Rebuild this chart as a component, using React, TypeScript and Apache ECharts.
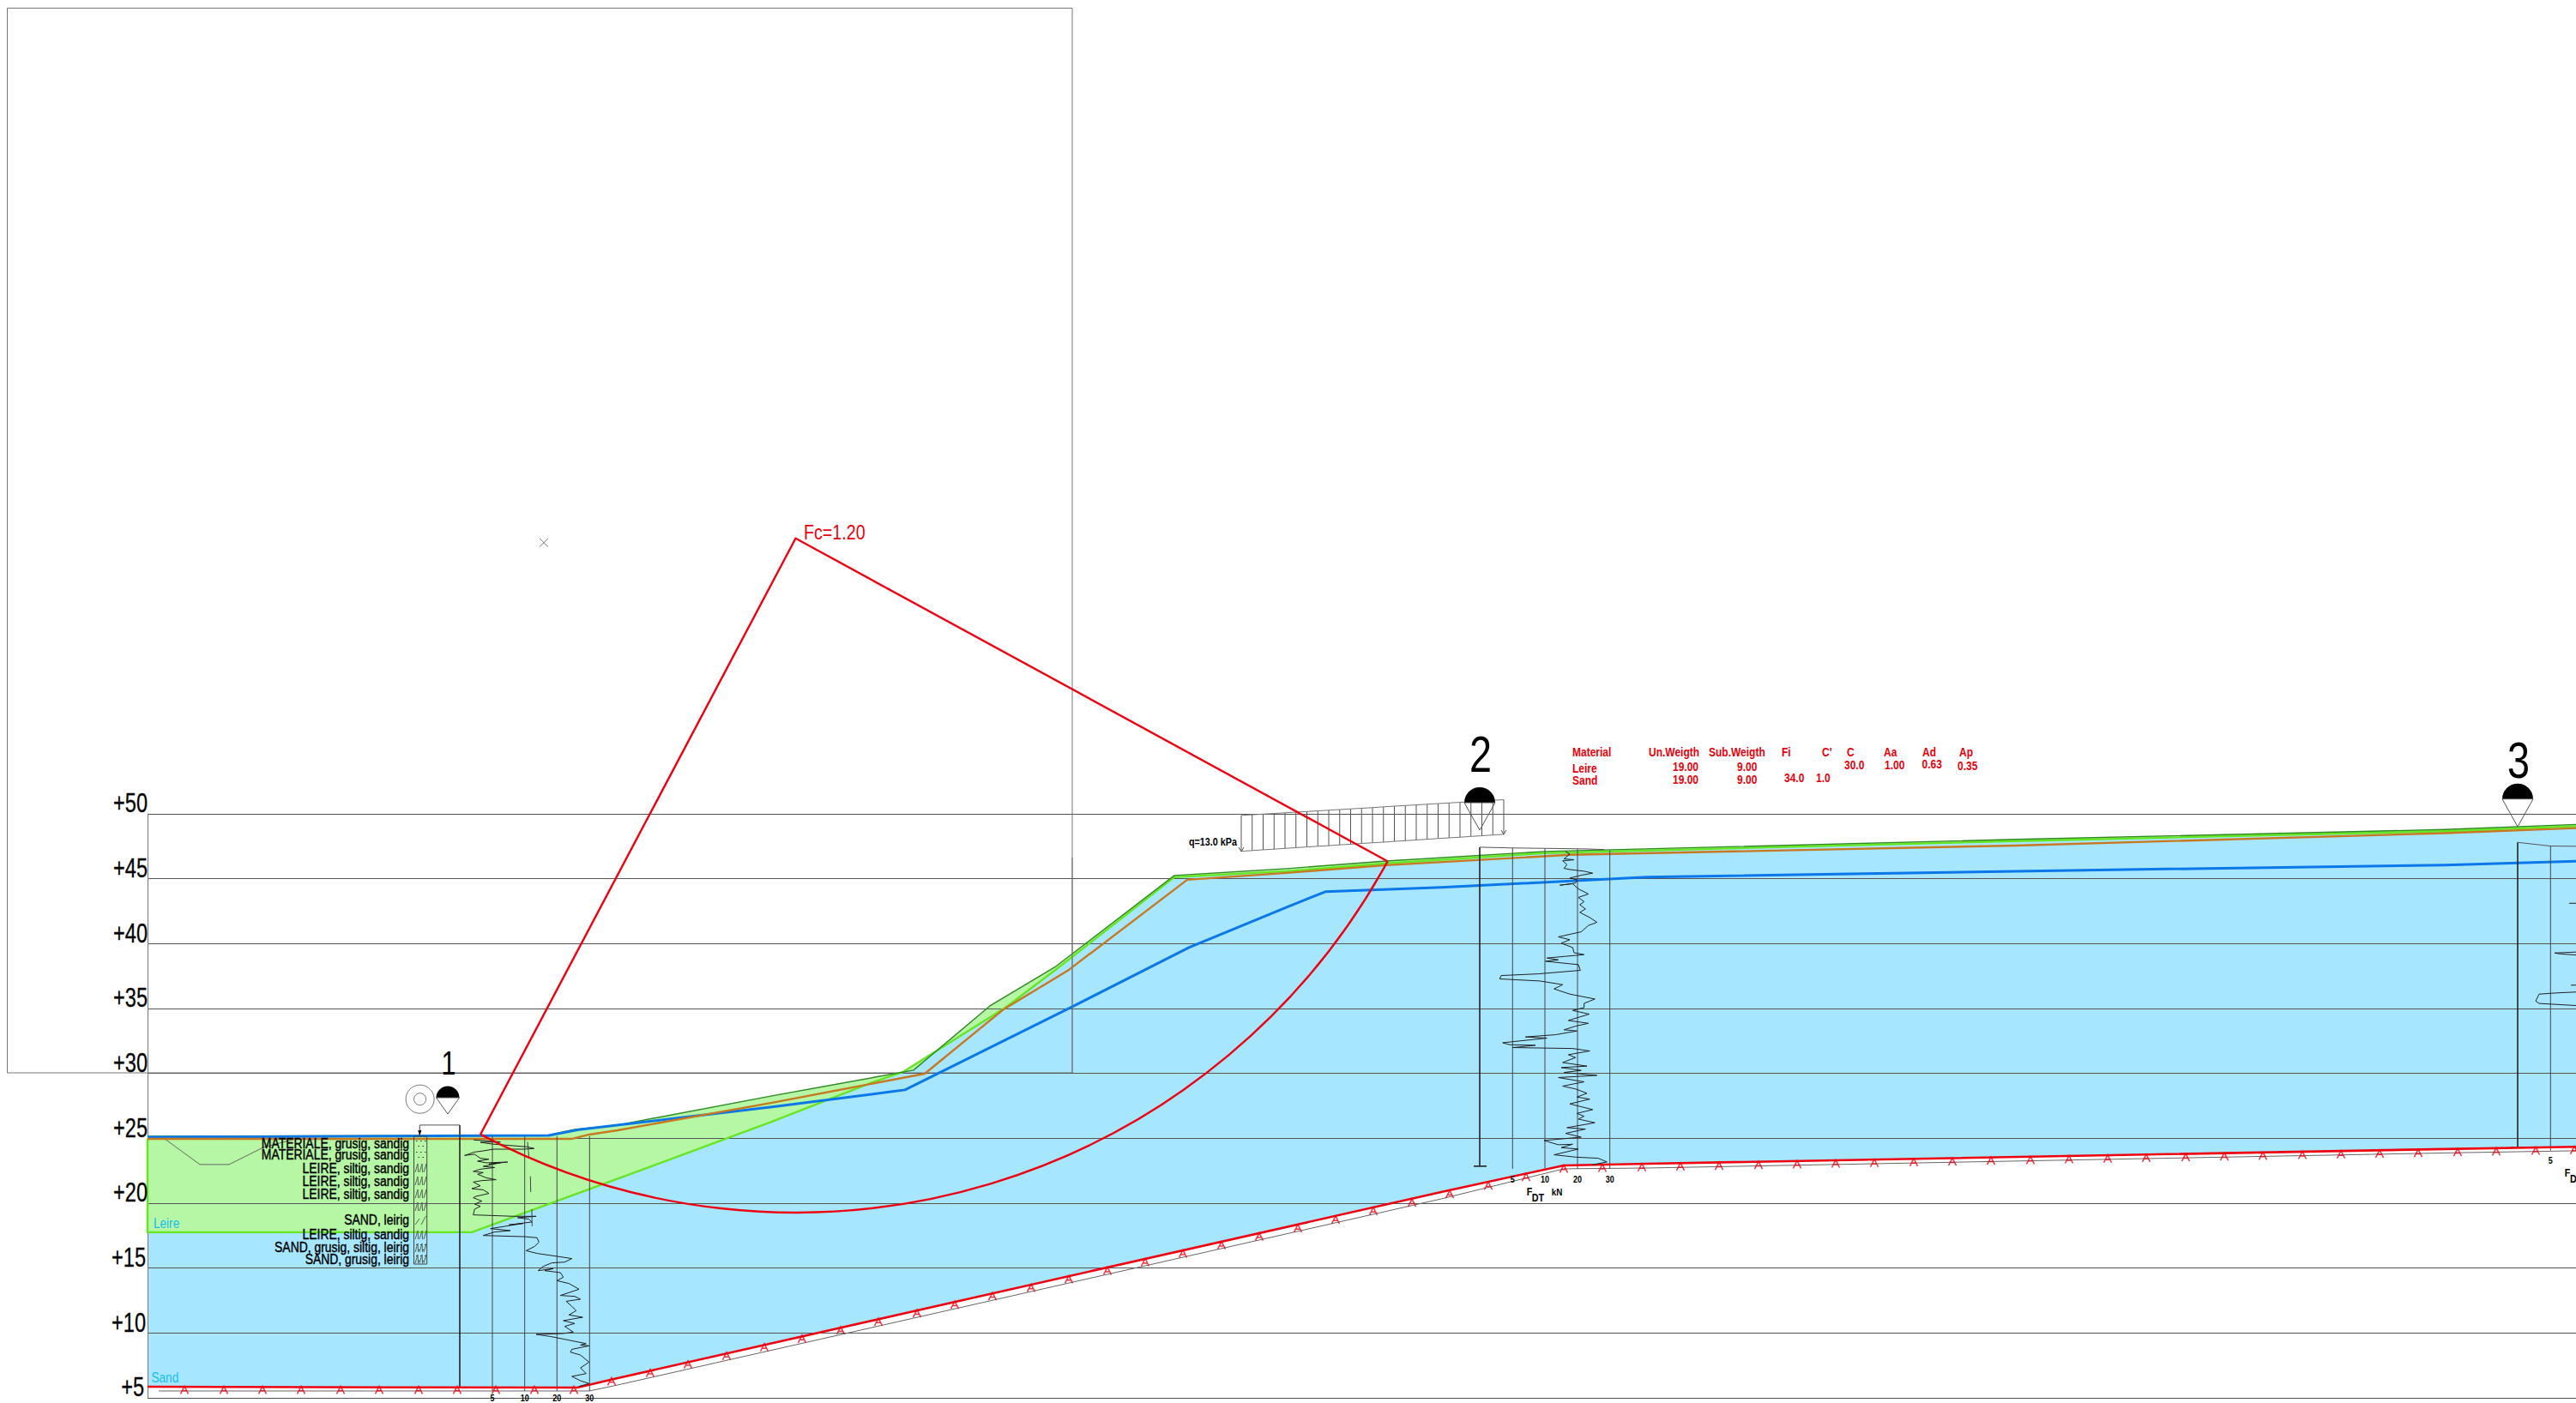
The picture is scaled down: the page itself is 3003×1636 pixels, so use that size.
import React, { useEffect, useRef } from "react";
import * as echarts from "echarts";

// drawing station (x) and elevation in metres (e) -------------------------
const elevationTicks = [5, 10, 15, 20, 25, 30, 35, 40, 45, 50];

const surface = [[172,25.16],[637,25.22],[670,25.69],[720,26.02],[900,28.27],[1065,30.25],[1154,35.2],[1231,38.25],[1369,45.25],[1500,45.78],[1616,46.37],[1800,47.1],[2350,48.03],[2850,48.79],[3003,49.18]];
const leireLower = [[172,17.76],[550,17.76],[700,21.39],[900,26.28],[1015,29.26],[1053,30.12],[1172,35.07],[1229,37.91],[1369,45.12],[1500,45.58],[1616,46.18],[1800,46.97],[2350,47.9],[2850,48.66],[3003,49.05]];
const orangeLine = [[172,24.96],[667,24.96],[687,25.29],[720,25.62],[900,27.74],[1078,29.98],[1170,34.94],[1246,37.98],[1384,44.92],[1500,45.45],[1616,46.04],[1830,46.84],[2350,47.56],[2850,48.51],[3003,48.9]];
const waterLine = [[172,25.09],[640,25.22],[677,25.69],[900,27.41],[1055,28.73],[1248,35.07],[1386,39.7],[1500,42.81],[1545,44],[1680,44.33],[1920,45.12],[2350,45.58],[2850,46.06],[3003,46.35]];
const redBase = [[172,5.86],[463,5.81],[673,5.79],[720,6.52],[1680,20.86],[1823,22.91],[1920,23.04],[2850,24.17],[3003,24.34]];
const thinBase = [[185,5.53],[687,5.53],[720,5.99],[1680,20.33],[1823,22.65],[1920,22.71],[2850,23.87],[3003,24.04]];
const trench = [[192,24.96],[233,22.98],[267,22.98],[307,24.3],[345,24.96]];

const anchorX = [215,261,306,351,397,442,488,533,578,623,669,713,758,802,847,891,935,980,1024,1069,1113,1157,1202,1246,1291,1335,1379,1424,1468,1513,1557,1601,1646,1690,1735,1779,1823,1868,1914,1959,2004,2050,2095,2140,2185,2231,2276,2321,2367,2412,2457,2502,2548,2593,2638,2684,2729,2774,2819,2865,2910,2956,3001];
const anchorE = [5.6,5.6,5.6,5.6,5.6,5.6,5.6,5.6,5.6,5.6,5.6,6.26,6.91,7.57,8.22,8.88,9.54,10.19,10.85,11.5,12.16,12.82,13.47,14.13,14.78,15.44,16.1,16.75,17.41,18.06,18.72,19.38,20.03,20.69,21.34,22.0,22.65,22.71,22.76,22.82,22.87,22.93,22.98,23.04,23.09,23.15,23.2,23.26,23.31,23.37,23.42,23.48,23.53,23.59,23.64,23.7,23.75,23.81,23.86,23.92,23.97,24.03,24.09];

// circular slip surface
const slipCentre = [927.5, 71.23];
const slipRadiusM = 51.95;
const slipArcDeg = [28.6, 117.8];
const slipLegs = [[560,25.29],[927.5,71.23],[1617,46.37]];
const crossMark = [[629,71.23,639,70.57],[629,70.57,639,71.23]];

// penetration soundings
const cpt1 = [[552.3,24.87],[583.3,24.72],[560,24.69],[573.3,24.56],[615,24.34],[622.7,24.21],[610,24.16],[575,24.16],[563.3,24.03],[553.3,23.94],[541.7,23.68],[553.3,23.77],[560,23.46],[570,23.39],[556.7,23.24],[566.7,23.11],[591.7,23.17],[570,23.02],[583.3,23.11],[563.3,22.84],[576.7,22.75],[560,22.62],[551.7,22.45],[563.3,22.36],[556.7,22.23],[566.7,21.96],[578.3,21.81],[561.7,21.74],[551.7,21.63],[560,21.34],[550,21.12],[563.3,21.03],[570,20.75],[555,20.53],[551.7,20.42],[561.7,20.16],[553.3,19.93],[560,19.76],[553.3,19.54],[551.7,19.1],[573.3,19.05],[598.3,18.99],[625,18.99],[603.3,18.88],[616.7,18.77],[620,18.55],[593.3,18.33],[610,18.44],[571.7,18.04],[595,17.89],[576.7,17.78],[563.3,17.51],[611.7,17.42],[626,17.34],[628.3,17],[623.3,16.67],[613.3,16.34],[626.7,16.12],[650,15.9],[666.7,15.73],[658.3,15.46],[643.3,15.4],[633.3,15.13],[627.3,14.8],[645,14.96],[635,14.8],[653.3,14.65],[656.7,14.3],[649.3,14.03],[663.3,13.81],[675,13.37],[653.3,12.89],[670,12.82],[676.7,12.6],[660,12.44],[666.7,12.05],[671.7,11.72],[663.3,11.39],[679.3,11.21],[656.7,10.95],[670,10.73],[658.3,10.51],[668.3,10.07],[656.7,9.96],[625,9.89],[641.7,9.73],[658.3,9.51],[683.3,9.18],[676.7,9.07],[686.7,9.01],[666.7,8.74],[665,8.52],[676.7,8.3],[686.7,7.75],[676.7,7.31],[683.3,6.87],[666.7,6.65],[676.7,6.32],[686.7,6.1],[675,5.88]];
const cpt2 = [[1825,47.1],[1830,46.9],[1823.3,46.53],[1835,46.46],[1821.7,46.38],[1826.7,46.09],[1823.3,45.8],[1830,45.71],[1846.7,45.58],[1856.7,45.43],[1843.3,45.27],[1830,45.05],[1838.3,44.92],[1836.7,44.66],[1818.3,44.5],[1833.3,44.61],[1840,44.22],[1851.7,43.82],[1840,43.56],[1846.7,43.23],[1841.7,43],[1848.3,42.67],[1841.7,42.41],[1853.3,42.01],[1861.7,41.64],[1851.7,41.4],[1843.3,40.91],[1816.7,40.52],[1830,40.3],[1820,40.03],[1833.3,39.7],[1835,39.3],[1846.7,39.15],[1803.3,38.89],[1816.7,38.75],[1801.7,38.64],[1840,38.38],[1842.3,37.94],[1793.3,37.67],[1750,37.54],[1748.3,37.28],[1795,37.12],[1821.7,36.84],[1811.7,36.51],[1830,36.11],[1859.3,35.73],[1846.7,35.4],[1846.7,35.07],[1833.3,34.85],[1852.7,34.57],[1828.3,34.08],[1851.7,33.86],[1836.7,33.64],[1823.3,33.36],[1838.3,33.27],[1813.3,32.98],[1778.3,32.81],[1803.3,32.72],[1751.7,32.36],[1760,32.21],[1790,32.17],[1763.3,31.99],[1833.3,31.92],[1853.3,31.73],[1828.3,31.44],[1836.7,31.22],[1821.7,30.84],[1850,30.56],[1820,30.45],[1843.3,30.23],[1823.3,30.07],[1861.7,29.85],[1816.7,29.68],[1846.7,29.35],[1821.7,29.02],[1836.7,28.8],[1850,28.47],[1838.3,28.18],[1853.3,28.02],[1830,27.65],[1856.7,27.21],[1838.3,26.92],[1846.7,26.7],[1840,26.48],[1859.3,26.2],[1826.7,25.82],[1848.3,25.71],[1825,25.38],[1843.3,25.09],[1800,24.83],[1816.7,24.5],[1833.3,24.54],[1820,24.28],[1840,24.17],[1811.7,23.73],[1836.7,23.55],[1863.3,23.46],[1873.3,23.18],[1856.7,22.96]];
const cpt3a = [[2995,43.11],[3003,43.11]];
const cpt3b = [[3003,39.35],[2978,39.28],[2983,39.22],[3003,39.12]];
const cpt3c = [[2997,36.8],[3003,36.8]];
const cpt3d = [[3003,36.27],[2980,36.2],[2960,36.11],[2956,35.58],[2960,35.39],[3003,35.23]];
const cptTop2 = [[1725,47.43],[1764,47.37],[1848,47.3],[1870,47.25]];
const cptTop3 = [[2935,47.8],[2973,47.52],[3003,47.5]];
const cptTop1 = [[489.3,26.02],[536,26.02],[536,25.16]];

// x1, e1, x2, e2
const cptAxesThin = [
  [574,25.16,574,5.53],[611.7,25.16,611.7,5.53],[649.3,25.16,649.3,5.53],[687.3,25.16,687.3,5.53],
  [1763.3,47.37,1763.3,22.65],[1801,47.34,1801,22.65],[1839,47.3,1839,22.65],[1876.7,47.2,1876.7,22.65],
  [2973.3,47.52,2973.3,24.06],
  [615,24.72,616.7,23.5],[618.3,22.07,618.7,20.86],[620,19.54,620.3,18.22],
];
const cptAxesThick = [
  [536,26.02,536,5.79],[525,5.79,544,5.79],
  [1725,47.43,1725,22.85],[1718,22.85,1733,22.85],
  [2935,47.8,2935,24.3],[2927,24.3,2943,24.3],
];

// load strip
const loadX = [1447,1459.75,1472.5,1485.25,1498,1510.75,1523.5,1536.25,1549,1561.75,1574.5,1587.25,1600,1612.75,1625.5,1638.25,1651,1663.75,1676.5,1689.25,1702,1714.75,1727.5,1740.25,1753];
const loadTopE = [49.88,49.93,49.98,50.03,50.08,50.13,50.18,50.23,50.28,50.33,50.38,50.43,50.48,50.54,50.59,50.64,50.69,50.74,50.79,50.84,50.89,50.94,50.99,51.04,51.09];
const loadBottomE = [47.12,47.17,47.23,47.28,47.34,47.39,47.45,47.5,47.55,47.61,47.66,47.72,47.77,47.82,47.88,47.93,47.99,48.04,48.1,48.15,48.2,48.26,48.31,48.37,48.42];

const logLabels = [
  { text: "MATERIALE, grusig, sandig", y: 1333.5 },
  { text: "MATERIALE, grusig, sandig", y: 1346.5 },
  { text: "LEIRE, siltig, sandig", y: 1362 },
  { text: "LEIRE, siltig, sandig", y: 1377 },
  { text: "LEIRE, siltig, sandig", y: 1392 },
  { text: "SAND, leirig", y: 1422 },
  { text: "LEIRE, siltig, sandig", y: 1439 },
  { text: "SAND, grusig, siltig, leirig", y: 1454.5 },
  { text: "SAND, grusig, leirig", y: 1468 },
];
const hatchRows = [
  { kind: "dots", y: 1334 }, { kind: "dots", y: 1347 },
  { kind: "clay", y: 1362 }, { kind: "clay", y: 1377 }, { kind: "clay", y: 1392 }, { kind: "clay", y: 1407 },
  { kind: "sand", y: 1423 }, { kind: "clay", y: 1440 },
  { kind: "mix", y: 1455 }, { kind: "mix", y: 1468 },
];
const tableHeader = [
  ["Material",1833],["Un.Weigth",1922],["Sub.Weigth",1992],["Fi",2077],["C'",2124],["C",2153],["Aa",2196],["Ad",2241],["Ap",2284],
];
const tableCells = [
  ["Leire",1833,895.7],["Sand",1833,910],
  ["19.00",1950,894],["9.00",2025,894],["19.00",1950,909],["9.00",2025,909],
  ["34.0",2080,907],["1.0",2117,907],
  ["30.0",2150,891.7],["1.00",2197,892],["0.63",2240.6,891],["0.35",2282,893],
];
const cptScale = [
  ["5",574,1630],["10",611.7,1630],["20",649.3,1630],["30",687.3,1630],
  ["5",1763.3,1375],["10",1801,1375],["20",1839,1375],["30",1876.7,1375],
  ["5",2973.3,1353],
];
const cones = [
  { label: "1", x: 522, top: 1266, base: 1280, hw: 13.5, tip: 1299, size: 39, ly: 1239 },
  { label: "2", x: 1725, top: 918, base: 936, hw: 18, tip: 968, size: 60, ly: 879 },
  { label: "3", x: 2935, top: 913, base: 931.7, hw: 18, tip: 964, size: 60, ly: 886 },
];

const FONT = "'Liberation Sans',sans-serif";
const GRID_TOP = 949;
const GRID_BOTTOM_Y = 1630;
const GRID_LEFT = 172;

const poly = (name: string, data: number[][], color: string, width: number, z: number) => ({
  type: "line", name, data, showSymbol: false, symbol: "none", clip: false, silent: true, z,
  lineStyle: { color, width, join: "round" }, emphasis: { disabled: true },
});

const fill = (name: string, pts: number[][], color: string, z: number) => ({
  type: "custom", name, clip: false, silent: true, z, data: pts, encode: { x: 0, y: 1 },
  renderItem: (p: any, api: any) => {
    if (p.dataIndex !== 0) return null;
    return { type: "polygon", shape: { points: pts.map((q) => api.coord(q)) }, style: { fill: color, stroke: "none" } };
  },
});

const segs = (name: string, data: number[][], color: string, width: number, z: number) => ({
  type: "custom", name, clip: false, silent: true, z, data, encode: { x: [0, 2], y: [1, 3] },
  renderItem: (_p: any, api: any) => {
    const a = api.coord([api.value(0), api.value(1)]);
    const b = api.coord([api.value(2), api.value(3)]);
    return { type: "line", shape: { x1: a[0], y1: a[1], x2: b[0], y2: b[1] }, style: { stroke: color, lineWidth: width, fill: "none" } };
  },
});

const txt = (text: string, x: number, y: number, size: number, sx = 1, color = "#000", align = "left", weight = "normal", heavy = 0) => ({
  type: "text", x, y, scaleX: sx, z: 20, silent: true,
  style: { text, fill: color, fontSize: size, fontFamily: FONT, fontWeight: weight, align, verticalAlign: "middle",
    ...(heavy ? { stroke: color, lineWidth: heavy } : {}) },
});

const ln = (x1: number, y1: number, x2: number, y2: number, color = "#555", w = 1) => ({
  type: "line", z: 15, silent: true, shape: { x1, y1, x2, y2 }, style: { stroke: color, lineWidth: w },
});

function buildGraphics(): any[] {
  const g: any[] = [];
  const RED = "#e8000c";
  // reference frame of the search grid
  g.push({ type: "rect", z: 1, silent: true, shape: { x: 8.5, y: 9.5, width: 1241.5, height: 1241.5 }, style: { fill: "none", stroke: "#777", lineWidth: 1 } });
  g.push(ln(1250, 1000, 1250, 1251, "#777"));

  g.push(txt("Fc=1.20", 937, 620.5, 24, 0.82, RED));
  g.push(txt("Leire", 179, 1426.5, 16, 0.85, "#16bdf0"));
  g.push(txt("Sand", 176.5, 1606.5, 16, 0.85, "#16bdf0"));
  g.push(txt("q=13.0 kPa", 1442, 981.5, 12, 0.9, "#000", "right", "bold"));
  logLabels.forEach((l) => g.push(txt(l.text, 477, l.y, 16, 0.87, "#000", "right", "normal", 0.4)));
  tableHeader.forEach(([t, x]) => g.push(txt(t as string, x as number, 877, 15, 0.8, RED, "left", "bold")));
  tableCells.forEach(([t, x, y]) => g.push(txt(t as string, x as number, y as number, 15, 0.8, RED, "left", "bold")));
  cptScale.forEach(([t, x, y]) => g.push(txt(t as string, x as number, y as number, 10, 0.9, "#000", "center", "bold")));
  g.push(txt("F", 1783, 1390, 12, 0.9, "#000", "center", "bold"));
  g.push(txt("DT", 1793, 1397, 12, 0.9, "#000", "center", "bold"));
  g.push(txt("kN", 1815, 1390, 11, 0.9, "#000", "center", "bold"));
  g.push(txt("F", 2993, 1368, 12, 0.9, "#000", "center", "bold"));
  g.push(txt("D", 3000, 1375, 12, 0.9, "#000", "center", "bold"));

  cones.forEach((c) => {
    g.push(txt(c.label, c.x + 1, c.ly, c.size, 0.78, "#000", "center"));
    g.push({ type: "sector", z: 16, silent: true, shape: { cx: c.x, cy: c.base, r0: 0, r: c.hw, startAngle: Math.PI, endAngle: 2 * Math.PI }, style: { fill: "#000" } });
    g.push({ type: "polygon", z: 16, silent: true, shape: { points: [[c.x - c.hw, c.base], [c.x + c.hw, c.base], [c.x, c.tip]] }, style: { fill: "none", stroke: "#555", lineWidth: 1 } });
  });
  g.push({ type: "circle", z: 16, silent: true, shape: { cx: 489.6, cy: 1281.7, r: 16.5 }, style: { fill: "none", stroke: "#777", lineWidth: 1 } });
  g.push({ type: "circle", z: 16, silent: true, shape: { cx: 489.6, cy: 1281.7, r: 7 }, style: { fill: "none", stroke: "#777", lineWidth: 1 } });
  g.push({ type: "polygon", z: 16, silent: true, shape: { points: [[487.3, 1318], [491.3, 1318], [489.3, 1325]] }, style: { fill: "#000" } });
  g.push(ln(489.3, 1312, 489.3, 1320, "#444"));

  // small load arrows
  g.push(ln(1447, 993, 1444, 988, "#555"), ln(1447, 993, 1450, 988, "#555"));
  g.push(ln(1753, 973, 1750, 968, "#555"), ln(1753, 973, 1756, 968, "#555"));

  // borehole log column
  g.push({ type: "rect", z: 15, silent: true, shape: { x: 482.5, y: 1325, width: 15.2, height: 149 }, style: { fill: "none", stroke: "#444", lineWidth: 1 } });
  hatchRows.forEach((r) => {
    const c = "#556655";
    if (r.kind === "dots" || r.kind === "mix") {
      [485, 490, 495].forEach((x) => g.push(ln(x, r.y - 3.5, x + 1.5, r.y - 3.5, "#333")));
      [487.5, 492.5].forEach((x) => g.push(ln(x, r.y + 2.5, x + 1.5, r.y + 2.5, "#333")));
    }
    if (r.kind === "clay" || r.kind === "mix") {
      [484, 489, 494].forEach((x) => {
        g.push(ln(x, r.y + 5, x + 3, r.y - 5, c));
        g.push(ln(x + 3, r.y - 5, x + 3.6, r.y + 5, c));
      });
    }
    if (r.kind === "sand") {
      g.push(ln(484, r.y + 5, 489, r.y - 2, c), ln(491, r.y + 5, 496.5, r.y - 5, c));
    }
  });
  return g;
}

export default function App() {
  const ref = useRef<HTMLDivElement>(null);
  useEffect(() => {
    if (!ref.current) return;
    const chart = echarts.init(ref.current, undefined, { renderer: "svg" });
    const blue = [...surface, ...[...redBase].reverse()];
    const leire = [...surface, ...[...leireLower].reverse()];
    const FILL_BLUE = "#a6e6ff";
    const FILL_GREEN = "#b5f7a5";
    const loadSegs = loadX.map((x, i) => [x, loadTopE[i], x, loadBottomE[i]]);
    chart.setOption({
      animation: false,
      backgroundColor: "#fff",
      grid: { left: GRID_LEFT, right: 0, top: GRID_TOP, bottom: 1636 - GRID_BOTTOM_Y, containLabel: false },
      xAxis: { type: "value", min: GRID_LEFT, max: 3003, show: false, splitLine: { show: false } },
      yAxis: {
        type: "value", min: elevationTicks[0], max: elevationTicks[elevationTicks.length - 1], interval: 5, z: 1,
        axisLine: { show: true, onZero: false, lineStyle: { color: "#777", width: 1 } },
        axisTick: { show: false },
        splitLine: { show: true, lineStyle: { color: "#555", width: 1 } },
        axisLabel: { show: false },
      },
      graphic: { elements: buildGraphics() },
      series: [
        fill("Sand", blue, FILL_BLUE, 0),
        fill("Leire", leire, FILL_GREEN, 0),
        {
          type: "custom", name: "Elevation labels", clip: false, silent: true, z: 9,
          data: elevationTicks.map((v) => [GRID_LEFT, v]), encode: { x: 0, y: 1 },
          renderItem: (_p: any, api: any) => {
            const v = api.value(1);
            const c = api.coord([api.value(0), v]);
            return {
              type: "text", x: c[0] - (v < 10 ? 4 : v < 20 && v > 5 ? 2 : 0), y: c[1] + 3, scaleX: 0.76,
              style: { text: "+" + v, fill: "#000", stroke: "#000", lineWidth: 0.3, fontSize: 31, fontFamily: FONT, align: "right", verticalAlign: "bottom" },
            };
          },
        },
        poly("Leire boundary", [[172, 25.0], ...leireLower], "#66e61e", 2.4, 3),
        poly("Surface", surface, "#2c8a20", 1.4, 4),
        poly("Trench", trench, "#666", 1, 3),
        poly("Water", waterLine, "#0a78e8", 3, 4),
        poly("Orange", orangeLine, "#c8781e", 2.4, 5),
        poly("Thin base", thinBase, "#666", 1, 3),
        poly("Base", redBase, "#ee0010", 2.6, 6),
        {
          type: "scatter", name: "Anchors", clip: false, silent: true, z: 7, symbolSize: 9,
          symbol: "path://M0,10L5,0L10,10M2,6L8,6",
          itemStyle: { color: "transparent", borderColor: "#ee0010", borderWidth: 1.5 },
          data: anchorX.map((x, i) => [x, anchorE[i]]),
        },
        segs("Cross", crossMark, "#777", 1, 2),
        segs("CPT axes", cptAxesThin, "#444", 1, 6),
        segs("CPT thick", cptAxesThick, "#222", 1.6, 6),
        poly("Top1", cptTop1, "#555", 1, 6),
        poly("Top2", cptTop2, "#555", 1, 6),
        poly("Top3", cptTop3, "#555", 1, 6),
        poly("CPT 1", cpt1, "#222", 1, 7),
        poly("CPT 2", cpt2, "#222", 1, 7),
        poly("CPT 3a", cpt3a, "#222", 1, 7),
        poly("CPT 3b", cpt3b, "#222", 1, 7),
        poly("CPT 3c", cpt3c, "#222", 1, 7),
        poly("CPT 3d", cpt3d, "#222", 1, 7),
        segs("Load", loadSegs, "#555", 1, 6),
        poly("Load top", loadX.map((x, i) => [x, loadTopE[i]]), "#777", 1, 6),
        poly("Load bottom", loadX.map((x, i) => [x, loadBottomE[i]]), "#777", 1, 6),
        poly("Slip legs", slipLegs, "#ee0010", 2.4, 8),
        {
          type: "custom", name: "Slip circle", clip: false, silent: true, z: 8, data: [slipCentre], encode: { x: 0, y: 1 },
          renderItem: (_p: any, api: any) => {
            const c = api.coord(slipCentre);
            const r = api.size([0, slipRadiusM])[1];
            return {
              type: "arc",
              shape: { cx: c[0], cy: c[1], r, startAngle: (slipArcDeg[0] * Math.PI) / 180, endAngle: (slipArcDeg[1] * Math.PI) / 180, clockwise: true },
              style: { stroke: "#ee0010", lineWidth: 2.4, fill: "none" },
            };
          },
        },
      ],
    });
    return () => chart.dispose();
  }, []);
  return <div ref={ref} style={{ position: "absolute", left: 0, top: 0, width: 3003, height: 1636 }} />;
}
